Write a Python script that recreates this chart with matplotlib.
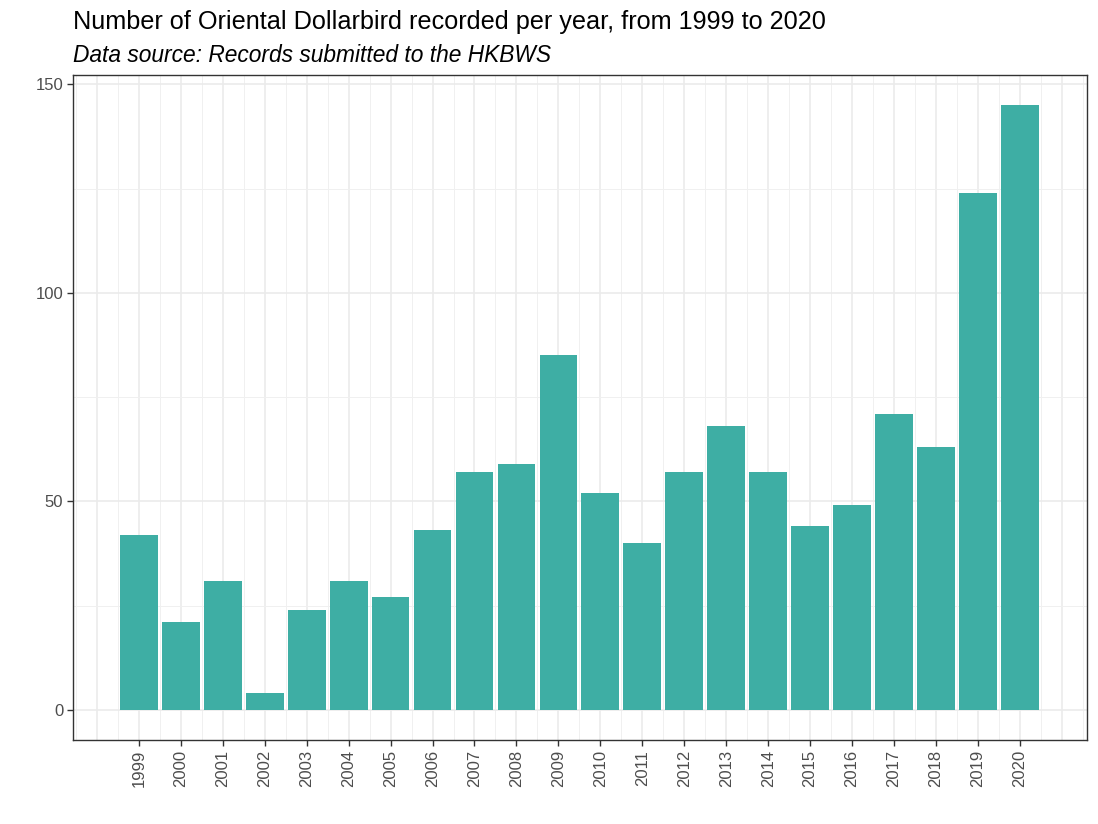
import matplotlib
matplotlib.use("Agg")
import matplotlib.pyplot as plt
import numpy as np

years = [str(y) for y in range(1999, 2021)]
counts = [42, 21, 31, 4, 24, 31, 27, 43, 57, 59, 85, 52, 40, 57, 68, 57, 44, 49, 71, 63, 124, 145]

plt.rcParams['font.family'] = ['Liberation Sans', 'DejaVu Sans']

W, H = 1098, 824
fig = plt.figure(figsize=(W/100, H/100), dpi=100)
L, R, T, B = 73, 1087, 75, 740
ax = fig.add_axes([L/W, 1-B/H, (R-L)/W, (B-T)/H])

x = np.arange(len(years))
ax.set_xlim(-1.57, len(years) - 1 + 1.6)
ax.set_ylim(-7.25, 152.25)

# grid
for v in np.arange(-1, len(years) + 1):
    ax.axvline(v, color='#EBEBEB', lw=1.2, zorder=0)
for v in np.arange(-1.5, len(years) + 1, 1.0):
    ax.axvline(v, color='#F0F0F0', lw=0.7, zorder=0)
for v in [0, 50, 100, 150]:
    ax.axhline(v, color='#EBEBEB', lw=1.2, zorder=0)
for v in [25, 75, 125]:
    ax.axhline(v, color='#F0F0F0', lw=0.7, zorder=0)

ax.bar(x, counts, width=0.9, color='#3EAEA4', zorder=2)

ax.set_xticks(x)
ax.set_xticklabels(years, rotation=90, fontsize=12, color='#4D4D4D')
ax.set_yticks([0, 50, 100, 150])
ax.set_yticklabels(['0', '50', '100', '150'], fontsize=12, color='#4D4D4D')
ax.tick_params(axis='both', length=4, width=1, color='#333333', pad=3)

for s in ax.spines.values():
    s.set_color('#333333')
    s.set_linewidth(1.0)

fig.text(L/W, 1-29/H, 'Number of Oriental Dollarbird recorded per year, from 1999 to 2020',
         fontsize=18.2, ha='left', va='baseline', color='black')
fig.text(L/W, 1-62/H, 'Data source: Records submitted to the HKBWS',
         fontsize=16.4, style='italic', ha='left', va='baseline', color='black')

fig.savefig('out.png', dpi=100, facecolor='white')
